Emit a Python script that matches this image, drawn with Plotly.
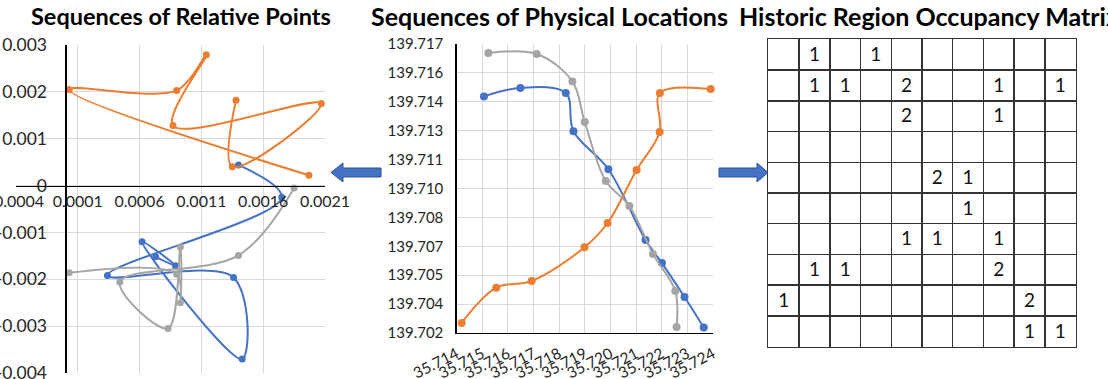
import plotly.graph_objects as go

# ---------------- data ----------------
# Panel 1: sequences of relative points (consecutive offsets)
rel_blue_x = [0.00140, 0.00175, 0.00034, 0.00136, 0.00143, 0.00062, 0.00089, 0.00073]
rel_blue_y = [0.00044, -0.00025, -0.00192, -0.00196, -0.00370, -0.00120, -0.00171, -0.00152]
rel_orange_x = [0.00138, 0.00135, 0.00207, 0.00087, 0.00114, 0.00090, 0.00003, 0.00197]
rel_orange_y = [0.00182, 0.00040, 0.00175, 0.00128, 0.00279, 0.00203, 0.00205, 0.00022]
rel_gray_x = [0.00185, 0.00140, 0.00044, 0.00083, 0.00093, 0.00093, 0.00090, 0.00003]
rel_gray_y = [-0.00005, -0.00149, -0.00206, -0.00305, -0.00131, -0.00250, -0.00189, -0.00186]

rel_xtick_vals = [-0.0004, 0.0001, 0.0006, 0.0011, 0.0016, 0.0021]
rel_xtick_text = ["-0.0004", "0.0001", "0.0006", "0.0011", "0.0016", "0.0021"]
rel_ytick_vals = [0.003, 0.002, 0.001, 0.0, -0.001, -0.002, -0.003, -0.004]
rel_ytick_text = ["0.003", "0.002", "0.001", "0", "-0.001", "-0.002", "-0.003", "-0.004"]

# Panel 2: sequences of physical locations (latitude, longitude)
phys_blue_lat = [35.71507, 35.71649, 35.71826, 35.71856, 35.71992, 35.72137, 35.72201, 35.72289, 35.72364]
phys_blue_lon = [139.71428, 139.71472, 139.71446, 139.71247, 139.71050, 139.70683, 139.70563, 139.70387, 139.70229]
phys_orange_lat = [35.71420, 35.71555, 35.71693, 35.71899, 35.71989, 35.72102, 35.72192, 35.72193, 35.72391]
phys_orange_lon = [139.70252, 139.70435, 139.70470, 139.70645, 139.70771, 139.71046, 139.71243, 139.71446, 139.71466]
phys_gray_lat = [35.71524, 35.71713, 35.71852, 35.71900, 35.71982, 35.72074, 35.72166, 35.72253, 35.72258]
phys_gray_lon = [139.71653, 139.71648, 139.71505, 139.71295, 139.70989, 139.70859, 139.70610, 139.70418, 139.70231]

phys_xtick_vals = [35.714, 35.715, 35.716, 35.717, 35.718, 35.719, 35.720, 35.721, 35.722, 35.723, 35.724]
phys_xtick_text = ["35.714", "35.715", "35.716", "35.717", "35.718", "35.719", "35.720", "35.721", "35.722", "35.723", "35.724"]
phys_ytick_vals = [139.7020, 139.7035, 139.7050, 139.7065, 139.7080, 139.7095,
                   139.7110, 139.7125, 139.7140, 139.7155, 139.7170]
phys_ytick_text = ["139.702", "139.704", "139.705", "139.707", "139.708", "139.710",
                   "139.711", "139.713", "139.714", "139.716", "139.717"]

# Panel 3: historic region occupancy matrix (0 = empty)
occupancy = [
    [0, 1, 0, 1, 0, 0, 0, 0, 0, 0],
    [0, 1, 1, 0, 2, 0, 0, 1, 0, 1],
    [0, 0, 0, 0, 2, 0, 0, 1, 0, 0],
    [0, 0, 0, 0, 0, 0, 0, 0, 0, 0],
    [0, 0, 0, 0, 0, 2, 1, 0, 0, 0],
    [0, 0, 0, 0, 0, 0, 1, 0, 0, 0],
    [0, 0, 0, 0, 1, 1, 0, 1, 0, 0],
    [0, 1, 1, 0, 0, 0, 0, 2, 0, 0],
    [1, 0, 0, 0, 0, 0, 0, 0, 2, 0],
    [0, 0, 0, 0, 0, 0, 0, 0, 1, 1],
]

titles = ["Sequences of Relative Points", "Sequences of Physical Locations",
          "Historic Region Occupancy Matrix"]

# ---------------- styling ----------------
W, H = 1108, 379
BLUE, ORANGE, GRAY = "#4472C4", "#ED7D31", "#A5A5A5"
GRID = "#D9D9D9"
FONT = "Lato"
TICKCOL = "#262626"
MATLINE = "#333333"


def fx(p):
    return p / W


def fy(p):
    return 1 - p / H


fig = go.Figure()

for xs, ys, c in [(rel_blue_x, rel_blue_y, BLUE), (rel_orange_x, rel_orange_y, ORANGE),
                  (rel_gray_x, rel_gray_y, GRAY)]:
    fig.add_trace(go.Scatter(x=xs, y=ys, mode="lines+markers", xaxis="x", yaxis="y",
                             line=dict(color=c, width=2, shape="spline", smoothing=1.0),
                             marker=dict(color=c, size=7), showlegend=False, cliponaxis=False))

for xs, ys, c in [(phys_blue_lat, phys_blue_lon, BLUE), (phys_orange_lat, phys_orange_lon, ORANGE),
                  (phys_gray_lat, phys_gray_lon, GRAY)]:
    fig.add_trace(go.Scatter(x=xs, y=ys, mode="lines+markers", xaxis="x2", yaxis="y2",
                             line=dict(color=c, width=2, shape="spline", smoothing=1.0),
                             marker=dict(color=c, size=8), showlegend=False, cliponaxis=False))

mx, my, mt = [], [], []
for r, row in enumerate(occupancy):
    for c, v in enumerate(row):
        if v:
            mx.append(c + 0.5)
            my.append(r + 0.55)
            mt.append(str(v))
fig.add_trace(go.Scatter(x=mx, y=my, text=mt, mode="text", xaxis="x3", yaxis="y3",
                         textfont=dict(family=FONT, size=19, color="#111111"),
                         showlegend=False, hoverinfo="skip"))

# panel 1 geometry
p1_l, p1_r, p1_t, p1_b = 16, 325, 45, 373
x_rng = [-0.0004, 0.0021]
y_rng = [-0.004, 0.003]
x0px = p1_l + (0 - x_rng[0]) / (x_rng[1] - x_rng[0]) * (p1_r - p1_l)
y0px = p1_t + (y_rng[1] - 0) / (y_rng[1] - y_rng[0]) * (p1_b - p1_t)

tickfont1x = dict(family=FONT, size=16, color=TICKCOL)
tickfont1y = dict(family=FONT, size=17.5, color=TICKCOL)
tickfont2x = dict(family=FONT, size=15.5, color=TICKCOL)
tickfont2y = dict(family=FONT, size=15, color=TICKCOL)

fig.update_layout(
    width=W, height=H, autosize=False,
    margin=dict(l=0, r=0, t=0, b=0, autoexpand=False),
    paper_bgcolor="white", plot_bgcolor="white",
    xaxis=dict(domain=[fx(p1_l), fx(p1_r)], range=x_rng, anchor="free", position=fy(y0px),
               tickvals=rel_xtick_vals, ticktext=rel_xtick_text, tickfont=tickfont1x,
               showgrid=True, gridcolor=GRID, gridwidth=1, zeroline=False, automargin=False,
               showline=True, linecolor="black", linewidth=1.2, ticks="", ticklabelstandoff=1,
               ticklabeloverflow="allow"),
    yaxis=dict(domain=[fy(p1_b), fy(p1_t)], range=y_rng, anchor="free", position=fx(x0px),
               tickvals=rel_ytick_vals, ticktext=rel_ytick_text, tickfont=tickfont1y,
               showgrid=True, gridcolor=GRID, gridwidth=1, zeroline=False, automargin=False,
               showline=True, linecolor="black", linewidth=1.2, ticks="", ticklabelstandoff=15,
               ticklabeloverflow="allow"),
    xaxis2=dict(domain=[fx(456.5), fx(713)], range=[35.714, 35.724], anchor="y2",
                tickvals=phys_xtick_vals, ticktext=phys_xtick_text, tickangle=-27,
                tickfont=tickfont2x, showgrid=True, gridcolor=GRID, gridwidth=1, zeroline=False,
                automargin=False, ticklabeloverflow="allow",
                showline=True, linecolor="black", linewidth=1.2, ticks="", ticklabelstandoff=5),
    yaxis2=dict(domain=[fy(333), fy(44)], range=[139.702, 139.717], anchor="x2",
                tickvals=phys_ytick_vals, ticktext=phys_ytick_text, automargin=False,
                tickfont=tickfont2y, showgrid=True, gridcolor=GRID, gridwidth=1, zeroline=False,
                ticklabeloverflow="allow",
                showline=True, linecolor="black", linewidth=1.2, ticks="", ticklabelstandoff=9),
    xaxis3=dict(domain=[fx(768.3), fx(1075.7)], range=[0, 10], anchor="y3", dtick=1, tick0=0,
                showticklabels=False, showgrid=True, gridcolor=MATLINE, gridwidth=1.5,
                zeroline=False, showline=True, mirror=True, linecolor=MATLINE, linewidth=1.5,
                ticks="", automargin=False),
    yaxis3=dict(domain=[fy(346.7), fy(39.3)], range=[10, 0], anchor="x3", dtick=1, tick0=0,
                showticklabels=False, showgrid=True, gridcolor=MATLINE, gridwidth=1.5,
                zeroline=False, showline=True, mirror=True, linecolor=MATLINE, linewidth=1.5,
                ticks="", automargin=False),
)

# titles
for txt, cx, fs in zip(titles, [181, 549, 929], [23.5, 25, 25]):
    fig.add_annotation(text="<b>%s</b>" % txt, x=fx(cx), y=fy(16), xref="paper", yref="paper",
                       showarrow=False, xanchor="center", yanchor="middle",
                       font=dict(family=FONT, size=fs, color="black"))


# block arrows (decoration)
def path(pts):
    return "M " + " L ".join("%f,%f" % (fx(a), fy(b)) for a, b in pts) + " Z"


left_arrow = [(331, 172.5), (343, 163), (343, 168), (381, 168), (381, 177), (343, 177), (343, 182)]
right_arrow = [(768, 172.5), (757, 182), (757, 177), (719, 177), (719, 168), (757, 168), (757, 163)]
for pts in (left_arrow, right_arrow):
    fig.add_shape(type="path", path=path(pts), xref="paper", yref="paper",
                  fillcolor=BLUE, line=dict(color="#2F528F", width=1), layer="above")

fig.write_html("out.html", config={"displayModeBar": False, "staticPlot": True},
               post_script="document.body.style.margin='0px';document.body.style.overflow='hidden';")
